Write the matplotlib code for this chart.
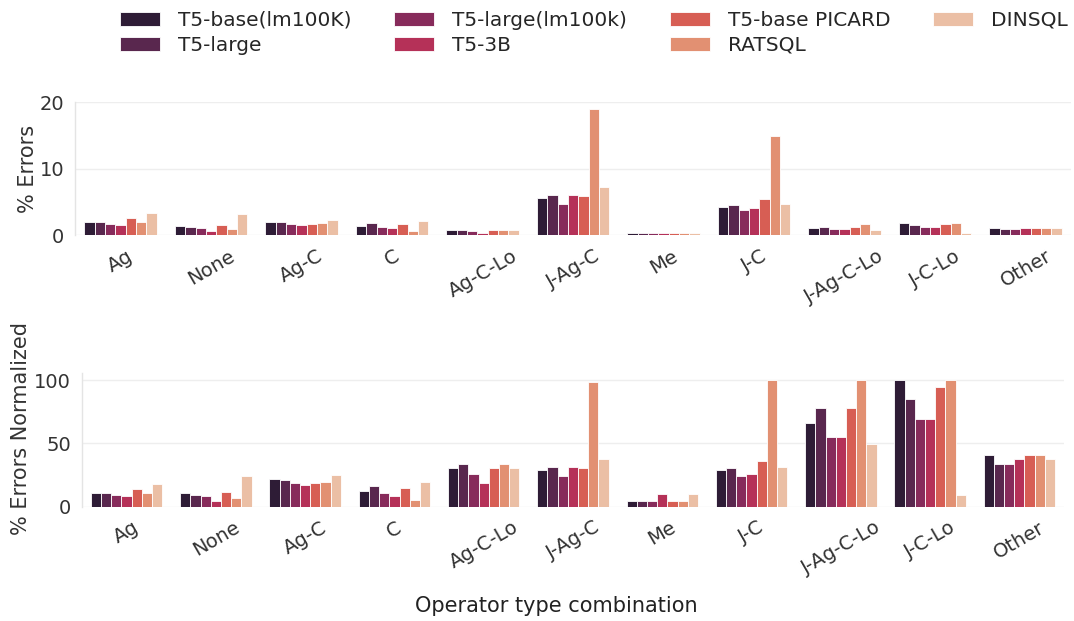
import numpy as np
import pandas as pd
import matplotlib
matplotlib.use('Agg')
import matplotlib.pyplot as plt
import seaborn as sns

categories = ['Ag', 'None', 'Ag-C', 'C', 'Ag-C-Lo', 'J-Ag-C', 'Me', 'J-C',
              'J-Ag-C-Lo', 'J-C-Lo', 'Other']
models = ['T5-base(lm100K)', 'T5-large', 'T5-large(lm100k)', 'T5-3B',
          'T5-base PICARD', 'RATSQL', 'DINSQL']

# % errors per model (rows) and operator combination (columns)
errors = [
    [1.95, 1.4, 2.0, 1.4, 0.8, 5.55, 0.3, 4.25, 1.1, 1.85, 1.1],
    [2.0, 1.25, 2.0, 1.9, 0.8, 6.05, 0.3, 4.55, 1.3, 1.55, 0.9],
    [1.7, 1.05, 1.75, 1.25, 0.6, 4.7, 0.3, 3.75, 0.95, 1.3, 0.9],
    [1.5, 0.6, 1.55, 1.05, 0.4, 6.05, 0.35, 4.05, 0.95, 1.3, 1.1],
    [2.6, 1.55, 1.75, 1.7, 0.8, 5.85, 0.3, 5.5, 1.25, 1.75, 1.1],
    [2.0, 0.9, 1.85, 0.6, 0.8, 19.0, 0.3, 15.0, 1.7, 1.85, 1.1],
    [3.3, 3.15, 2.35, 2.2, 0.8, 7.3, 0.3, 4.7, 0.75, 0.3, 1.1],
]

# % errors normalized
errors_norm = [
    [10.5, 10.5, 22.1, 12.1, 30.3, 28.7, 4.5, 28.7, 66.3, 100.0, 41.0],
    [11.0, 9.5, 21.0, 16.3, 33.9, 31.0, 4.5, 30.3, 77.9, 84.7, 34.0],
    [9.5, 8.7, 18.9, 10.5, 26.0, 24.5, 4.5, 24.5, 55.3, 69.5, 34.0],
    [8.7, 4.5, 17.1, 8.7, 18.7, 31.0, 9.7, 26.0, 55.3, 69.5, 38.0],
    [13.7, 11.6, 18.7, 14.5, 30.3, 30.3, 4.5, 36.3, 77.9, 94.7, 41.0],
    [11.0, 7.1, 19.7, 5.3, 33.9, 98.7, 4.5, 100.0, 100.0, 100.0, 41.0],
    [17.9, 24.5, 25.3, 19.7, 30.3, 37.9, 9.7, 31.3, 49.5, 9.5, 38.0],
]


def to_long(values):
    rows = []
    for m, vals in zip(models, values):
        for c, v in zip(categories, vals):
            rows.append({'Operator': c, 'Model': m, 'value': v})
    return pd.DataFrame(rows)


sns.set_theme(style='whitegrid')
plt.rcParams['font.family'] = ['DejaVu Sans']
palette = sns.color_palette('rocket', 7)

fig = plt.figure(figsize=(10.74, 6.21), dpi=100)
ax1 = fig.add_axes([0.0701, 0.6211, 0.927, 0.2153])
ax2 = fig.add_axes([0.0763, 0.184, 0.9144, 0.2148])

sns.barplot(data=to_long(errors), x='Operator', y='value', hue='Model',
            hue_order=models, order=categories, palette=palette,
            edgecolor='white', linewidth=0.6, ax=ax1)
sns.barplot(data=to_long(errors_norm), x='Operator', y='value', hue='Model',
            hue_order=models, order=categories, palette=palette,
            edgecolor='white', linewidth=0.6, ax=ax2)

ax1.set_ylim(0, 20.1)
ax1.set_yticks([0, 10, 20])
ax2.set_ylim(0, 105.3)
ax2.set_yticks([0, 50, 100])

for ax in (ax1, ax2):
    ax.set_xlim(-0.5, 10.5)
    ax.grid(axis='x', visible=False)
    ax.grid(axis='y', color='#eeeeee', linewidth=1)
    for name, s in ax.spines.items():
        s.set_visible(name == 'left')
    ax.spines['left'].set_color('#e4e4e4')
    ax.spines['left'].set_linewidth(1)
    ax.tick_params(axis='both', labelsize=14, colors='#333333', pad=2)
    plt.setp(ax.get_xticklabels(), rotation=30)
    ax.set_xlabel('')
    ax.get_legend().remove()

ax1.set_ylabel('% Errors', fontsize=15, color='#333333')
ax1.yaxis.set_label_coords(-0.037, 0.5)
ax2.set_ylabel('% Errors Normalized', fontsize=15, color='#333333')
ax2.yaxis.set_label_coords(-0.052, 0.59)
ax2.set_xlabel('Operator type combination', fontsize=15, color='#222222')
ax2.xaxis.set_label_coords(0.483, -0.67)

handles, labels = ax1.get_legend_handles_labels()
fig.legend(handles, labels, loc='upper center', ncol=4, frameon=False,
           fontsize=14.5, bbox_to_anchor=(0.553, 1.012), columnspacing=2.1,
           handlelength=2.0, handletextpad=0.9, labelspacing=0.3)

fig.savefig('out.png', dpi=100)
